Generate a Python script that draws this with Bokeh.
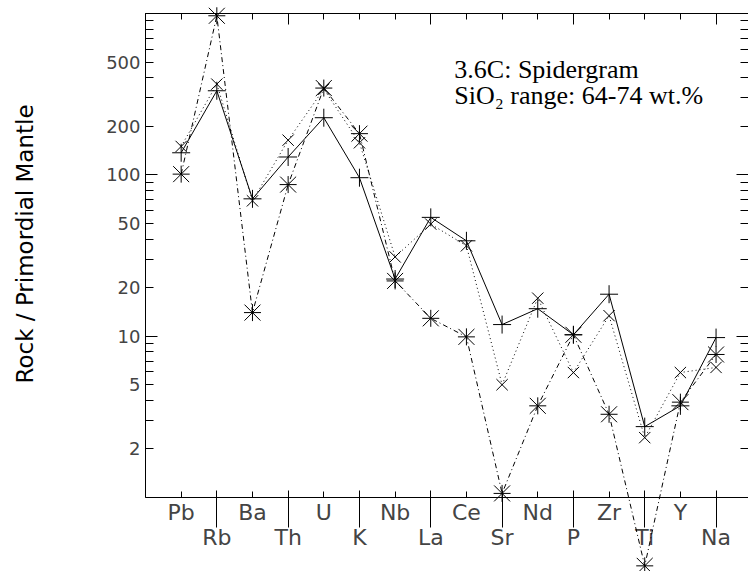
from bokeh.plotting import figure
from bokeh.models import FixedTicker, LinearAxis, LogAxis, Range1d, Label
from bokeh.core.properties import value
from bokeh.embed import file_html
from bokeh.resources import INLINE

# ---- data ----
elements = ["Pb", "Rb", "Ba", "Th", "U", "K", "Nb", "La", "Ce", "Sr", "Nd", "P", "Zr", "Ti", "Y", "Na"]
series_solid = [137, 332, 71, 129, 226, 96, 22.6, 54.5, 39, 11.8, 14.8, 10.2, 18.2, 2.75, 3.7, 9.8]
series_dotted = [150, 365, 69, 164, 340, 158, 31, 49.5, 36.3, 5.0, 17.2, 5.95, 13.4, 2.35, 5.95, 6.4]
series_dashdot = [101, 968, 14, 87, 345, 180, 22, 12.9, 9.9, 1.06, 3.7, 10.2, 3.28, 0.377, 3.9, 7.7]
y_tick_labels = [2, 5, 10, 20, 50, 100, 200, 500]
title_lines = ["3.6C: Spidergram", "SiO\u2082 range: 64-74 wt.%"]
y_label = "Rock / Primordial Mantle"

xs = list(range(1, len(elements) + 1))

W, H = 748, 571
p = figure(width=W, height=H, output_backend="svg", toolbar_location=None,
           x_range=Range1d(0, 16.91), y_range=Range1d(1, 1000), y_axis_type="log",
           x_axis_location=None, y_axis_location=None,
           min_border_left=145, min_border_right=0, min_border_top=13, min_border_bottom=74)
p.grid.visible = False
p.outline_line_color = None

SANS = "DejaVu Sans"

# log tick positions
unlabelled_y = []
for d in [1, 10, 100]:
    for k in range(2, 10):
        if k * d not in y_tick_labels:
            unlabelled_y.append(k * d)
long_y = [10, 100]
all_y = sorted(unlabelled_y + y_tick_labels)

# left: long ticks at decades (closest to frame)
left_long = LogAxis(ticker=FixedTicker(ticks=long_y, minor_ticks=[]),
                    major_tick_in=12, major_tick_out=0, minor_tick_in=0, minor_tick_out=0,
                    major_label_text_color=None, major_label_text_font_size="1px",
                    major_label_standoff=0, axis_line_color="black", major_tick_line_color="black")
p.add_layout(left_long, "left")

left = LogAxis(ticker=FixedTicker(ticks=y_tick_labels, minor_ticks=unlabelled_y),
               major_label_overrides={t: str(t) for t in y_tick_labels},
               major_tick_in=8, major_tick_out=0, minor_tick_in=8, minor_tick_out=0,
               major_label_text_font=SANS, major_label_text_font_size="18px",
               major_label_standoff=5,
               axis_line_color="black", major_tick_line_color="black", minor_tick_line_color="black")
p.add_layout(left, "left")

right = LogAxis(ticker=FixedTicker(ticks=all_y, minor_ticks=long_y),
                major_label_text_color=None, major_label_text_font_size="1px", major_label_standoff=0,
                major_tick_in=8, major_tick_out=0, minor_tick_in=12, minor_tick_out=0,
                axis_line_color=None)
p.add_layout(right, "right")

top = LinearAxis(ticker=FixedTicker(ticks=[0, 4, 8, 12, 16], minor_ticks=list(range(0, 17))),
                 major_label_text_color=None, major_label_text_font_size="1px", major_label_standoff=0,
                 major_tick_in=11, major_tick_out=0, minor_tick_in=6, minor_tick_out=0,
                 axis_line_color="black")
p.add_layout(top, "above")

# bottom: first row of element names (short ticks), second row (long ticks)
xs_row1, names_row1 = xs[0::2], elements[0::2]
xs_row2, names_row2 = xs[1::2], elements[1::2]
bottom1 = LinearAxis(ticker=FixedTicker(ticks=xs_row1, minor_ticks=[]),
                     major_label_overrides=dict(zip(xs_row1, names_row1)),
                     major_tick_in=6, major_tick_out=0, minor_tick_in=0, minor_tick_out=0,
                     major_label_text_font=SANS, major_label_text_font_size="22px",
                     major_label_standoff=2, axis_line_color="black")
p.add_layout(bottom1, "below")
bottom2 = LinearAxis(ticker=FixedTicker(ticks=xs_row2, minor_ticks=[]),
                     major_label_overrides=dict(zip(xs_row2, names_row2)),
                     major_tick_in=37, major_tick_out=0, minor_tick_in=0, minor_tick_out=0,
                     major_label_text_font=SANS, major_label_text_font_size="22px",
                     major_label_standoff=-3, axis_line_color=None)
p.add_layout(bottom2, "below")

# y-axis title (text glyph on the overlay level so it is not clipped to the frame)
p.text(x=[-3.38], y=[37.3], text=[y_label], angle=90, angle_units="deg",
       text_align="center", text_baseline="middle",
       text_font=value(SANS), text_font_size=value("23px"), text_color="black", level="overlay")

# series
p.line(xs, series_solid, line_color="black", line_width=1)
p.scatter(xs, series_solid, marker="cross", size=18, line_color="black", line_width=1)

p.line(xs, series_dotted, line_color="black", line_width=1, line_dash="1 3")
p.scatter(xs, series_dotted, marker="x", size=16, line_color="black", line_width=1)

p.line(xs, series_dashdot, line_color="black", line_width=1, line_dash="5 3 1 3", level="overlay")
# asterisk markers built from rays (not culled outside the frame, like the original)
star_angles = [0, 45, 90, 135, 180, 225, 270, 315]
star_lengths = [8.5, 11.3] * 4
p.ray(x=[x for x in xs for _ in star_angles],
      y=[y for y in series_dashdot for _ in star_angles],
      angle=star_angles * len(xs), length=star_lengths * len(xs),
      angle_units="deg", length_units="screen",
      line_color="black", line_width=1, level="overlay")

# title text
p.add_layout(Label(x=8.66, y=452, text=title_lines[0], text_font="Liberation Serif",
                   text_font_size="26px", text_baseline="middle", text_color="black"))
p.add_layout(Label(x=8.66, y=309, text=title_lines[1], text_font="Liberation Serif",
                   text_font_size="26px", text_baseline="middle", text_color="black"))

open("out.html", "w").write(file_html(p, INLINE))
